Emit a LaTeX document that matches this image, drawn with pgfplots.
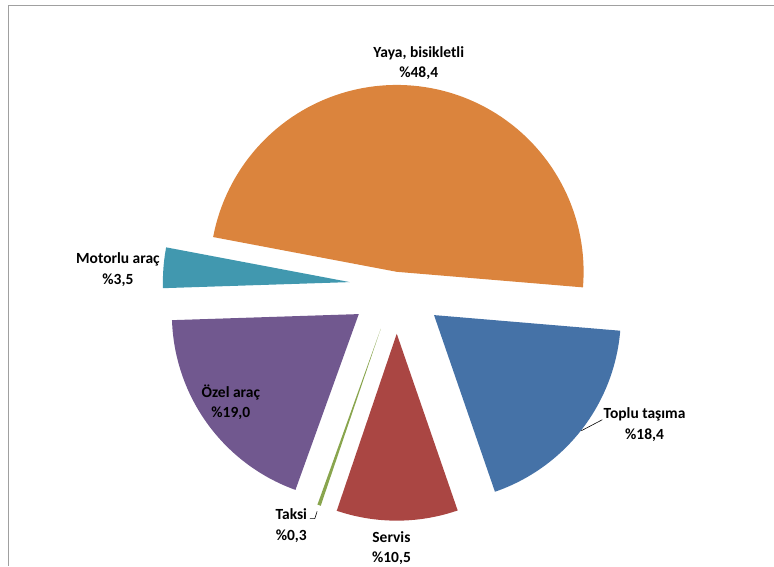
\documentclass[border=0pt]{standalone}
\usepackage{pgfplots}
\pgfplotsset{compat=1.18}
\usepackage{pgfplotstable}
\usepackage{fontspec}
\setmainfont{Carlito}
\definecolor{c0}{HTML}{4572A7}
\definecolor{c1}{HTML}{AA4643}
\definecolor{c2}{HTML}{89A54E}
\definecolor{c3}{HTML}{71588F}
\definecolor{c4}{HTML}{4198AF}
\definecolor{c5}{HTML}{DB843D}
\definecolor{framegray}{HTML}{A0A0A0}

% value = share (%), ax/ay = position of the (exploded) slice apex
\pgfplotstableread{
value ax ay
18.4 434.3 250.7
10.5 397 232
0.3 381 237
19.0 359 251.7
3.5 350 283.7
48.4 397 294
}\slices

\begin{document}
\begin{tikzpicture}
\begin{axis}[scale only axis, width=774pt, height=566pt,
  xmin=0, xmax=774, ymin=0, ymax=566, hide axis, clip=false]
\path (axis cs:0,0) (axis cs:774,566);
\pgfmathsetmacro{\R}{187}
\xdef\sa{-4.8}
\pgfplotsinvokeforeach{0,...,5}{
  \pgfplotstablegetelem{#1}{value}\of\slices \let\v\pgfplotsretval
  \pgfplotstablegetelem{#1}{ax}\of\slices \let\ax\pgfplotsretval
  \pgfplotstablegetelem{#1}{ay}\of\slices \let\ay\pgfplotsretval
  \pgfmathsetmacro{\ea}{\sa - \v/100.1*360}
  \edef\doplot{\noexpand\addplot[fill=c#1, draw=none, domain=\sa:\ea, samples=90]
    ({\ax+\R*cos(x)},{\ay+\R*sin(x)}) -- (axis cs:\ax,\ay) -- cycle;}
  \doplot
  \xdef\sa{\ea}
}
\tikzset{lbl/.style={align=center, inner sep=0pt, font=\bfseries\fontsize{15.5}{20.5}\selectfont}}
\node[lbl] at (axis cs:419,503) {Yaya, bisikletli\\\%48,4};
\node[lbl] at (axis cs:118,296) {Motorlu araç\\\%3,5};
\node[lbl] at (axis cs:231,163.5) {Özel araç\\\%19,0};
\node[lbl] at (axis cs:645,141) {Toplu taşıma\\\%18,4};
\node[lbl] at (axis cs:291.5,40) {Taksi\\\%0,3};
\node[lbl] at (axis cs:391.7,17.3) {Servis\\\%10,5};
\draw[black, line width=0.6pt] (axis cs:602.7,146) -- (axis cs:581.7,135);
\draw[black, line width=0.6pt] (axis cs:310,47) -- (axis cs:315,47) -- (axis cs:317.3,54.3);
\draw[framegray, line width=1pt] (axis cs:774,560.7) -- (axis cs:9,560.7) -- (axis cs:9,0);
\end{axis}
\end{tikzpicture}
\end{document}
